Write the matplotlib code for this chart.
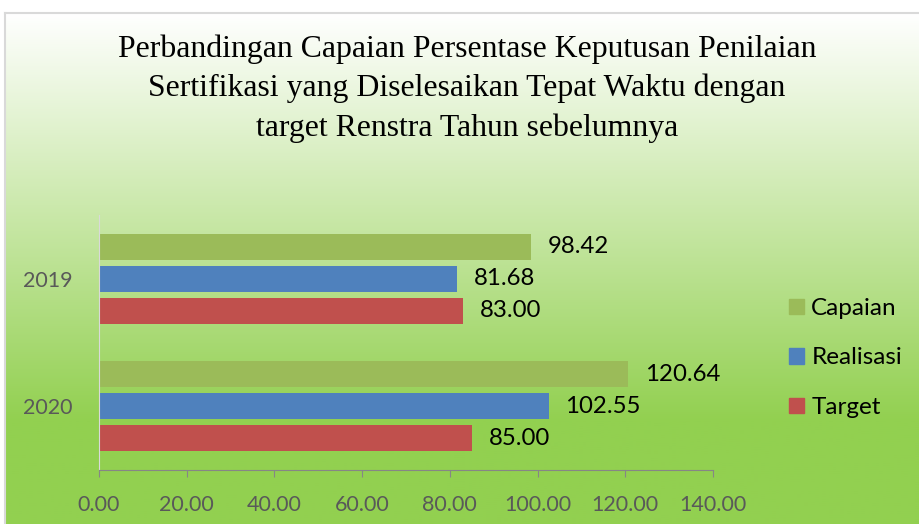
import numpy as np
import matplotlib.pyplot as plt
from matplotlib.colors import LinearSegmentedColormap
from matplotlib.patches import Patch

years = ['2019', '2020']
capaian = [98.42, 120.64]
realisasi = [81.68, 102.55]
target = [83.00, 85.00]
series_names = ['Capaian', 'Realisasi', 'Target']
xticks = [0, 20, 40, 60, 80, 100, 120, 140]

colours = {'Capaian': '#9BBB59', 'Realisasi': '#4F81BD', 'Target': '#C0504D'}
sans = ['Lato', 'DejaVu Sans']
serif = ['Liberation Serif', 'DejaVu Serif']

fig = plt.figure(figsize=(9.19, 5.24), dpi=100)

# chart area background: white -> green gradient
bg = fig.add_axes([5 / 919, 0, 1 - 5 / 919, 1 - 13 / 524], zorder=0)
grad = np.linspace(0, 1, 256).reshape(-1, 1)
cmap = LinearSegmentedColormap.from_list('bg', [(0, '#ffffff'), (0.8, '#92D050'), (1, '#92D050')])
bg.imshow(grad, aspect='auto', cmap=cmap, extent=[0, 1, 0, 1], origin='upper')
bg.set_xticks([])
bg.set_yticks([])
for side in ['right', 'bottom']:
    bg.spines[side].set_visible(False)
for side in ['left', 'top']:
    bg.spines[side].set_color('#d9d9d9')
    bg.spines[side].set_linewidth(1.5)

fig.text(0.508, 0.935,
         'Perbandingan Capaian Persentase Keputusan Penilaian\n'
         'Sertifikasi yang Diselesaikan Tepat Waktu dengan\n'
         'target Renstra Tahun sebelumnya',
         ha='center', va='top', fontsize=22.9, family=serif, linespacing=1.45,
         zorder=2)

ax = fig.add_axes([99 / 919, 1 - 470 / 524, 614 / 919, 255 / 524], zorder=1)
ax.patch.set_alpha(0)

pos = np.arange(len(years))
slot = 0.251
height = 0.204
for i, (name, vals) in enumerate(zip(series_names, [capaian, realisasi, target])):
    ys = pos + (i - 1) * slot
    ax.barh(ys, vals, height=height, color=colours[name], label=name)
    for y, v in zip(ys, vals):
        ax.annotate(f'{v:.2f}', (v, y), xytext=(12, 0), textcoords='offset points',
                    va='center', ha='left', fontsize=17.3, family=sans, color='black')

ax.set_xlim(0, 140)
ax.set_ylim(1.5, -0.5)
ax.set_xticks(xticks)
ax.set_xticklabels([f'{t:.2f}' for t in xticks], family=sans, fontsize=15.5, color='#595959')
ax.set_yticks(pos)
ax.set_yticklabels(years, family=sans, fontsize=15.5, color='#595959')
ax.tick_params(axis='y', length=0, pad=19)
ax.tick_params(axis='x', length=5, color='#868686', pad=13)
for side in ['top', 'right']:
    ax.spines[side].set_visible(False)
ax.spines['bottom'].set_color('#868686')
ax.spines['left'].set_color('#d9d9d9')

handles = [Patch(color=colours[n], label=n) for n in series_names]
fig.legend(handles=handles, loc='center left', bbox_to_anchor=(789 / 919, 1 - 358 / 524),
           frameon=False, prop={'family': sans, 'size': 17.5}, handlelength=0.62,
           handleheight=0.62, handletextpad=0.3, labelspacing=1.17, borderpad=0,
           borderaxespad=0)

fig.savefig('out.png', dpi=100)
